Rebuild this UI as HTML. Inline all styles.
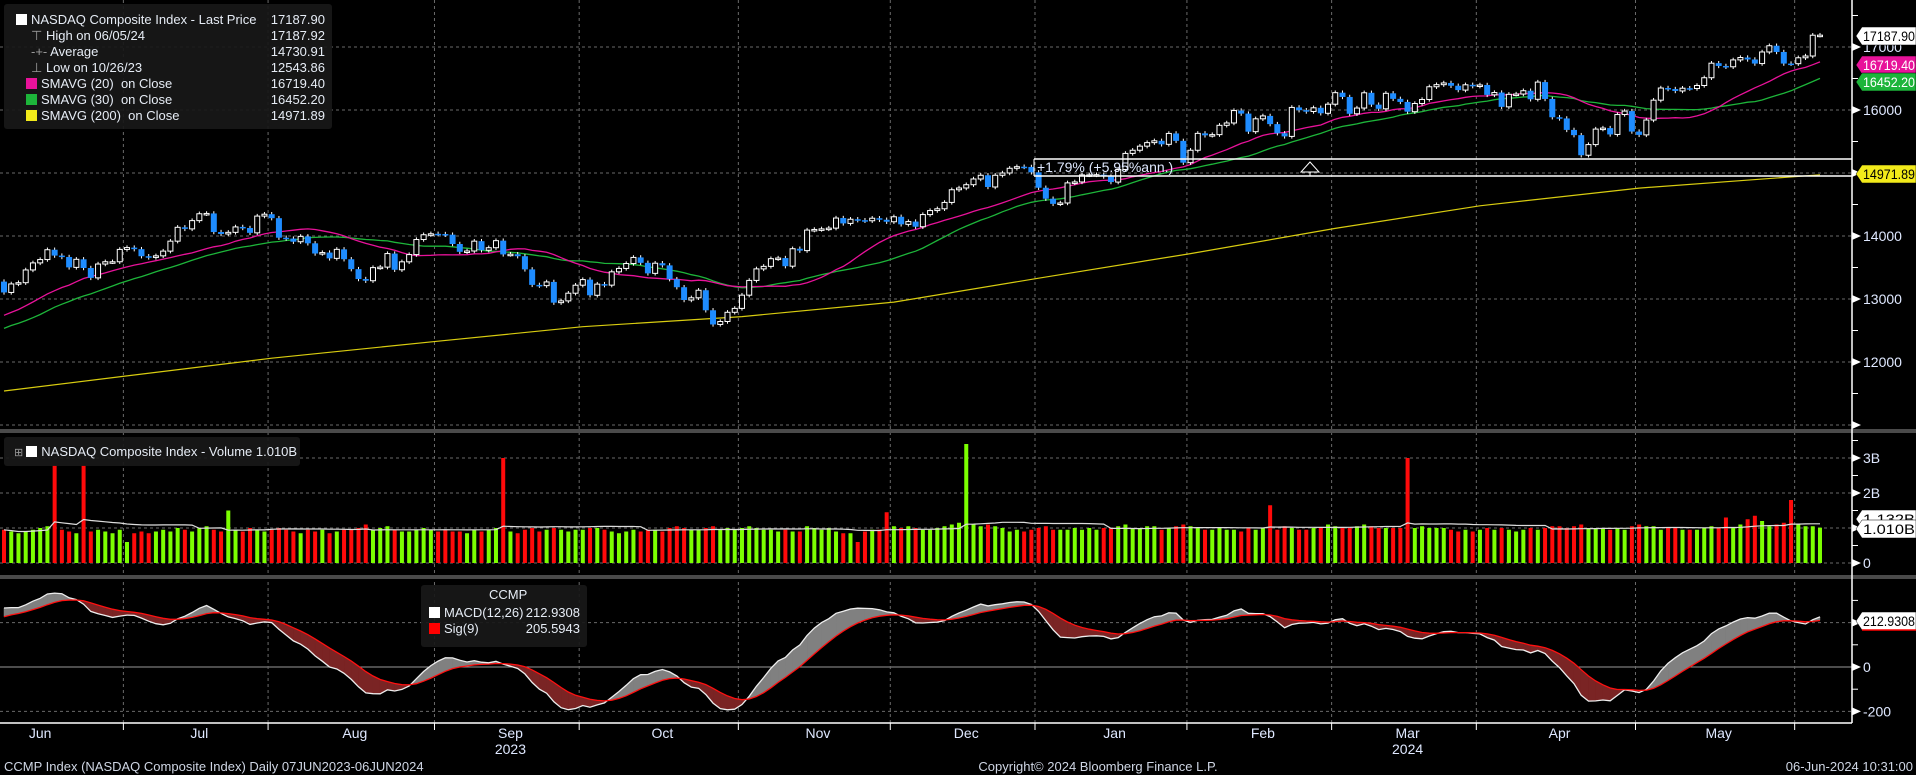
<!DOCTYPE html>
<html><head><meta charset="utf-8"><style>
html,body{margin:0;padding:0;background:#000;}
body{width:1916px;height:775px;overflow:hidden;position:relative;font-family:"Liberation Sans",sans-serif;}
svg{position:absolute;left:0;top:0;}
.lg{position:absolute;background:rgba(24,24,24,0.92);border-radius:3px;color:#e6ecf5;font-size:13px;}
.row{position:absolute;left:0;height:16px;line-height:16px;white-space:nowrap;}
.sw{display:inline-block;width:11px;height:11px;vertical-align:-1px;margin-right:4px;}
.val{position:absolute;right:7px;}
</style></head><body>
<svg id="chart" width="1916" height="775"></svg>

<div class="lg" style="left:4px;top:4px;width:328px;height:125px;">
 <div class="row" style="top:8px;left:12px;right:0"><span class="sw" style="background:#fff"></span>NASDAQ Composite Index - Last Price<span class="val">17187.90</span></div>
 <div class="row" style="top:24px;left:27px;right:0"><span style="color:#999">⊤ </span>High on 06/05/24<span class="val">17187.92</span></div>
 <div class="row" style="top:40px;left:27px;right:0"><span style="color:#999">-+- </span>Average<span class="val">14730.91</span></div>
 <div class="row" style="top:56px;left:27px;right:0"><span style="color:#999">⊥ </span>Low on 10/26/23<span class="val">12543.86</span></div>
 <div class="row" style="top:72px;left:22px;right:0"><span class="sw" style="background:#e8129a"></span>SMAVG (20)&nbsp; on Close<span class="val">16719.40</span></div>
 <div class="row" style="top:88px;left:22px;right:0"><span class="sw" style="background:#1db53a"></span>SMAVG (30)&nbsp; on Close<span class="val">16452.20</span></div>
 <div class="row" style="top:104px;left:22px;right:0"><span class="sw" style="background:#f2ea1a"></span>SMAVG (200)&nbsp; on Close<span class="val">14971.89</span></div>
</div>

<div class="lg" style="left:4px;top:437px;width:296px;height:29px;">
 <div class="row" style="top:7px;left:10px;"><span style="color:#999;font-size:11px">⊞ </span><span class="sw" style="background:#fff"></span>NASDAQ Composite Index - Volume 1.010B</div>
</div>

<div class="lg" style="left:421px;top:585px;width:166px;height:62px;">
 <div class="row" style="top:2px;left:68px;">CCMP</div>
 <div class="row" style="top:20px;left:8px;right:0"><span class="sw" style="background:#fff"></span>MACD(12,26)<span class="val">212.9308</span></div>
 <div class="row" style="top:36px;left:8px;right:0"><span class="sw" style="background:#f00"></span>Sig(9)<span class="val">205.5943</span></div>
</div>

<script>
// ---- data ----
const preCloses = [12037,11799,11854,12142,12226,12213,12080,12025,11966,12235,12256,12180,12306,12329,12284,12365,12343,12501,12688,12658,12720,12560,12484,12698,12975,13017,12935,13101,13241,13230,13276];
const closes = [
13104,13239,13259,13461,13573,13626,13782,13689,13667,13502,13630,13492,13335,13555,13591,13591,13787,
13816,13791,13679,13660,13685,13760,13918,14138,14113,14244,14353,14358,14063,14032,14058,14144,14127,14050,14316,14346,
14283,13973,13959,13909,13994,13884,13722,13737,13645,13788,13631,13474,13317,13290,13498,13506,13721,13464,13590,13705,13944,14020,14035,
14031,14021,13873,13749,13762,13918,13774,13814,13926,13708,13711,13679,13470,13224,13212,13271,12942,12970,13092,13219,
13308,13059,13236,13220,13431,13485,13563,13660,13574,13407,13568,13534,13315,13187,12984,13019,13139,12821,12596,12643,12789,12851,
13061,13295,13478,13518,13640,13650,13521,13798,13768,14094,14104,14113,14125,14285,14200,14266,14251,14242,14282,14258,14226,
14305,14185,14229,14147,14340,14404,14432,14533,14734,14762,14814,14905,14964,14778,14964,15000,15075,15100,15096,15011,
14766,14592,14510,14524,14843,14858,14970,14970,14973,14944,14856,15056,15311,15361,15426,15482,15511,15455,15628,15510,15164,
15361,15629,15598,15609,15757,15794,15991,15943,15656,15860,15906,15776,15631,15581,16041,15997,15976,16035,15948,16092,
16275,16207,15940,16031,16273,16085,16019,16265,16177,16128,15973,16103,16167,16369,16402,16429,16385,16316,16400,16379,
16397,16240,16277,16050,16249,16253,16306,16170,16443,16175,15885,15866,15684,15601,15282,15451,15697,15713,15612,15928,15983,15658,
15605,15841,16156,16349,16333,16302,16346,16341,16389,16512,16743,16699,16686,16795,16833,16802,16737,16921,17020,16921,16737,16735,
16829,16857,17187,17188];
const volumes = [
0.95,0.9,0.85,0.9,0.95,1.0,1.05,2.8,0.95,0.9,0.85,2.8,0.9,0.95,0.9,0.85,0.95,
0.6,0.85,0.9,0.85,0.9,0.95,0.9,1.0,0.95,0.9,1.0,1.05,0.95,0.9,1.5,0.95,0.9,1.0,0.95,0.9,
0.95,1.0,0.95,0.9,0.85,0.95,0.9,0.95,0.85,0.9,0.95,0.95,1.0,1.1,0.95,1.0,1.05,0.95,0.9,0.9,0.95,1.0,0.95,
0.9,0.95,0.9,0.9,0.85,0.95,0.9,0.95,1.0,3.0,0.9,0.85,0.95,1.0,0.9,0.95,1.0,0.95,0.9,0.95,
0.95,1.0,1.0,0.95,0.9,0.85,0.9,0.95,0.9,0.95,0.95,0.9,1.0,1.05,1.0,0.95,0.95,1.0,1.05,0.95,1.0,0.95,
1.0,1.05,1.0,0.95,0.95,0.9,0.95,0.9,0.9,1.05,1.0,0.95,1.0,0.9,0.85,0.85,0.6,0.9,0.95,0.95,1.45,
1.05,1.0,1.05,1.0,0.95,0.95,1.0,1.05,1.1,1.15,3.4,1.1,1.05,1.1,1.05,1.0,0.9,0.95,0.9,0.95,
1.0,1.05,0.95,0.95,0.95,1.0,0.95,1.0,0.95,1.0,1.0,1.05,1.1,1.0,1.0,1.05,1.05,0.95,1.0,1.05,1.1,
1.05,1.0,0.95,0.95,1.0,0.95,0.95,0.9,1.0,0.95,1.0,1.65,0.95,1.05,1.0,0.95,0.95,1.0,1.0,1.1,
1.05,1.0,1.0,1.05,1.1,1.05,1.0,1.0,1.0,1.0,3.0,1.0,1.05,1.0,1.0,1.0,0.95,0.9,0.95,0.9,
0.95,1.0,0.95,1.0,0.95,0.9,0.95,1.0,0.95,1.0,1.05,1.05,1.0,1.05,1.1,1.0,1.0,1.0,0.95,1.0,0.95,1.05,
1.1,1.05,1.05,0.95,1.0,1.0,0.95,0.95,0.95,1.0,1.05,1.0,1.3,1.0,1.1,1.25,1.35,1.2,1.05,1.1,1.15,1.8,
1.1,1.05,1.05,1.01];
const sma200Idx = [0,17,37,60,80,102,123,143,164,184,204,226,251];
const sma200Val = [11540,11780,12060,12330,12560,12720,12950,13330,13720,14120,14480,14760,14972];
const priceTicks = [12000,13000,14000,15000,16000,17000];
const priceTickLabels = ["12000","13000","14000","","16000","17000"];
const volTicks = [0,1,2,3];
const volTickLabels = ["0","","2B","3B"];
const macdTicks = [-200,0,200];
const macdTickLabels = ["-200","0",""];
const monthStarts = [17,37,60,80,102,123,143,164,184,204,226,248];
const monthNames = ["Jun","Jul","Aug","Sep","Oct","Nov","Dec","Jan","Feb","Mar","Apr","May"];
const monthCenters = [5,27,48.5,70,91,112.5,133,153.5,174,194,215,237];
const years = ["2023","2024"];
const yearCenters = [70,194];

// ---- scales ----
const X0=4, DX=7.235;
const xOf=i=>X0+i*DX;
const yP=v=>47+(17000-v)*0.063;
const yV=v=>563-v*35;
const yM=v=>667-v*0.222;
const AX=1852;

const svg=document.getElementById('chart');
const NS='http://www.w3.org/2000/svg';
function mk(tag,attrs,parent){const e=document.createElementNS(NS,tag);for(const k in attrs)e.setAttribute(k,attrs[k]);(parent||svg).appendChild(e);return e;}

// gridlines
const grid=mk('g',{});


priceTicks.concat([11000]).forEach(v=>{mk('line',{x1:0,x2:AX,y1:yP(v),y2:yP(v),stroke:'#6a6a6a','stroke-dasharray':'3,3'},grid);});
volTicks.forEach(v=>mk('line',{x1:0,x2:AX,y1:yV(v),y2:yV(v),stroke:'#6a6a6a','stroke-dasharray':'3,3'},grid));
macdTicks.forEach(v=>mk('line',{x1:0,x2:AX,y1:yM(v),y2:yM(v),stroke:v===0?'#999':'#6a6a6a','stroke-dasharray':v===0?'':'3,3'},grid));
monthStarts.forEach(i=>{const x=xOf(i)-DX/2;mk('line',{x1:x,x2:x,y1:0,y2:723,stroke:'#6a6a6a','stroke-dasharray':'3,3'},grid);mk('line',{x1:x,x2:x,y1:723,y2:730,stroke:'#fff'},grid);});

// separators & axes
const sep1=mk('rect',{x:0,y:429,width:1916,height:4,fill:'#4a4a4a'});


const sep2=mk('rect',{x:0,y:575,width:1916,height:4,fill:'#4a4a4a'});


const ax=mk('line',{x1:AX,x2:AX,y1:0,y2:723,stroke:'#fff','stroke-width':1.5});


const bx=mk('line',{x1:0,x2:AX,y1:723,y2:723,stroke:'#fff','stroke-width':1.5});



const all=preCloses.concat(closes);
const P=preCloses.length;
function sma(n,i){let s=0,c=0;for(let k=Math.max(0,i-n+1);k<=i;k++){s+=all[k];c++;}return s/c;}

function poly(pts,color,w,name){const p=mk('polyline',{points:pts.map(q=>q[0].toFixed(1)+','+q[1].toFixed(1)).join(' '),fill:'none',stroke:color,'stroke-width':w});return p;}
poly(sma200Idx.map((i,k)=>[xOf(i),yP(sma200Val[k])]),'#d8cc10',1.2,'sma200-line');
poly(closes.map((c,i)=>[xOf(i),yP(sma(30,i+P))]),'#1db53a',1.3,'sma30-line');
poly(closes.map((c,i)=>[xOf(i),yP(sma(20,i+P))]),'#e8129a',1.3,'sma20-line');

// candles
const cg=mk('g',{});


closes.forEach((c,i)=>{
  const o=all[i+P-1]; const x=xOf(i); const up=c>=o;
  const hi=Math.max(o,c)+35, lo=Math.min(o,c)-35;
  const g=mk('g',{},cg);
  
  
  mk('line',{x1:x,x2:x,y1:yP(hi),y2:yP(lo),stroke:'#fff','stroke-width':1},g);
  const t=yP(Math.max(o,c)), h=Math.max(1.5,yP(Math.min(o,c))-t);
  if(up) mk('rect',{x:x-2.5,y:t,width:5,height:h,fill:'#000',stroke:'#fff','stroke-width':1},g);
  else mk('rect',{x:x-3,y:t,width:6,height:h,fill:'#1e8cff'},g);
});

// annotation
const an=mk('g',{});


mk('line',{x1:1034,x2:1852,y1:159,y2:159,stroke:'#fff','stroke-width':1.5},an);
mk('line',{x1:1034,x2:1852,y1:176,y2:176,stroke:'#fff','stroke-width':1.5},an);
mk('line',{x1:1034,x2:1034,y1:159,y2:176,stroke:'#fff'},an);
mk('polygon',{points:'1310,162 1301,172 1319,172',fill:'none',stroke:'#fff'},an);
mk('line',{x1:1310,x2:1310,y1:172,y2:176,stroke:'#fff'},an);
const at=mk('text',{x:1037,y:172,fill:'#dfe8ff','font-size':14,'font-family':'Liberation Sans'},an);at.textContent='+1.79% (+5.95%ann.)';

// volume
const vg=mk('g',{});


closes.forEach((c,i)=>{
  const v=volumes[i]||1; const up=c>=all[i+P-1];
  const b=mk('rect',{x:xOf(i)-2,y:yV(v),width:4,height:yV(0)-yV(v),fill:up?'#7cff00':'#ff0a0a'},vg);
  
  
});
const vma=closes.map((c,i)=>{let s=0,n=0;for(let k=Math.max(0,i-19);k<=i;k++){s+=volumes[k]||1;n++;}return [xOf(i),yV(s/n)];});
poly(vma,'#ddd',1.2,'volume-average-line');

// MACD
function ema(arr,n){const a=2/(n+1);const out=[];let e=arr[0];arr.forEach((v,i)=>{e=i?a*v+(1-a)*e:v;out.push(e);});return out;}
const e12=ema(all,12),e26=ema(all,26);
const macdAll=all.map((v,i)=>e12[i]-e26[i]);
const sigAll=ema(macdAll,9);
const macd=macdAll.slice(P),sig=sigAll.slice(P);
const fg=mk('g',{});


for(let i=0;i<macd.length-1;i++){
  const d=(macd[i]-sig[i])+(macd[i+1]-sig[i+1]);
  mk('polygon',{points:`${xOf(i)},${yM(macd[i])} ${xOf(i+1)},${yM(macd[i+1])} ${xOf(i+1)},${yM(sig[i+1])} ${xOf(i)},${yM(sig[i])}`,fill:d>=0?'#808080':'#7a2424',stroke:d>=0?'#808080':'#7a2424','stroke-width':0.5},fg);
}
poly(macd.map((v,i)=>[xOf(i),yM(v)]),'#eee',1.3,'macd-line');
poly(sig.map((v,i)=>[xOf(i),yM(v)]),'#ff1010',1.3,'signal-line');

// axis ticks & labels
function tickLabel(y,txt,name){
  mk('polygon',{points:`${AX},${y-4} ${AX+9},${y} ${AX},${y+4}`,fill:'#fff'});
  if(txt){const t=mk('text',{x:AX+11,y:y+5,fill:'#dfe8ff','font-size':14,'font-family':'Liberation Sans'});t.textContent=txt;}
}
priceTicks.forEach((v,k)=>tickLabel(yP(v),priceTickLabels[k],'price-tick-label'));
tickLabel(yP(11000),'','price-tick-label');
[11500,12500,13500,14500,15500,16500,17500].forEach(v=>mk('line',{x1:AX,x2:AX+6,y1:yP(v),y2:yP(v),stroke:'#fff'}));
volTicks.forEach((v,k)=>tickLabel(yV(v),volTickLabels[k],'volume-tick-label'));
[0.5,1.5,2.5,3.5].forEach(v=>mk('line',{x1:AX,x2:AX+6,y1:yV(v),y2:yV(v),stroke:'#fff'}));
macdTicks.forEach((v,k)=>tickLabel(yM(v),macdTickLabels[k],'macd-tick-label'));
[-100,100,300].forEach(v=>mk('line',{x1:AX,x2:AX+6,y1:yM(v),y2:yM(v),stroke:'#fff'}));

// value tags
function tag(y,txt,bg,fg,name){
  const g=mk('g',{});
  mk('polygon',{points:`${AX+4},${y} ${AX+10},${y-9} 1916,${y-9} 1916,${y+9} ${AX+10},${y+9}`,fill:bg,stroke:'#000','stroke-width':0.5},g);
  const t=mk('text',{x:AX+11,y:y+5,fill:fg,'font-size':14,'font-family':'Liberation Sans',textLength:52,lengthAdjust:'spacingAndGlyphs'},g);t.textContent=txt;
}
tag(36,'17187.90','#fff','#000','last-price-tag');
tag(65,'16719.40','#e8129a','#fff','sma20-tag');
tag(82,'16452.20','#1db53a','#fff','sma30-tag');
tag(174,'14971.89','#f2ea1a','#000','sma200-tag');
tag(519,'1.132B','#fff','#000','volume-average-tag');
tag(529,'1.010B','#fff','#000','volume-last-tag');
tag(621,'212.9308','#fff','#000','macd-tag');
mk('line',{x1:AX+10,x2:1916,y1:630,y2:630,stroke:'#f00','stroke-width':1.5});

// x labels
monthNames.forEach((m,k)=>{const t=mk('text',{x:xOf(monthCenters[k]),y:738,fill:'#dfe8ff','font-size':14,'font-family':'Liberation Sans','text-anchor':'middle'});t.textContent=m;});
years.forEach((yv,k)=>{const t=mk('text',{x:xOf(yearCenters[k]),y:754,fill:'#dfe8ff','font-size':14,'font-family':'Liberation Sans','text-anchor':'middle'});t.textContent=yv;});

// footer
[[4,'start','CCMP Index (NASDAQ Composite Index)  Daily 07JUN2023-06JUN2024','footer-title'],[1098,'middle','Copyright© 2024 Bloomberg Finance L.P.','footer-copyright'],[1913,'end','06-Jun-2024 10:31:00','footer-timestamp']].forEach(a=>{
  const t=mk('text',{x:a[0],y:771,fill:'#cfd6e4','font-size':13,'font-family':'Liberation Sans','text-anchor':a[1]});t.textContent=a[2];t.setAttribute('xml:space','preserve');
});
</script>
</body></html>
